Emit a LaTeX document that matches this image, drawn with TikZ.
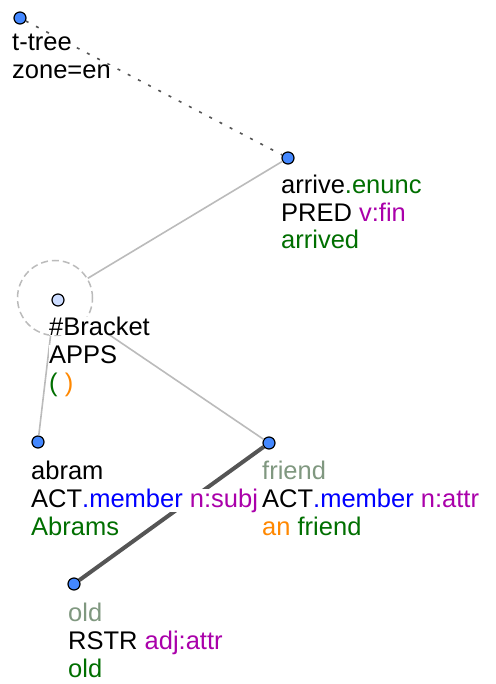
\documentclass[tikz,border=0pt]{standalone}
\usepackage{fontspec}
\setmainfont{Liberation Sans}
\usepackage{tikz}

\definecolor{nodeblue}{HTML}{4488FF}
\definecolor{nodepale}{HTML}{CCDCFF}
\definecolor{tgreen}{HTML}{006F00}
\definecolor{tblue}{HTML}{0000FF}
\definecolor{tmagenta}{HTML}{AA00AA}
\definecolor{torange}{HTML}{FF8800}
\definecolor{tgray}{HTML}{809880}
\definecolor{edgelight}{HTML}{BBBBBB}
\definecolor{edgedark}{HTML}{555555}

\begin{document}
\begin{tikzpicture}[x=1pt, y=-1pt, font=\fontsize{25.5}{28}\selectfont,
    tnode/.style={circle, draw=black, line width=1.2pt, fill=nodeblue, inner sep=0pt, minimum size=12pt},
    group/.style={circle, draw=edgelight, line width=1.5pt, dash pattern=on 7pt off 4pt, inner sep=0pt, minimum size=75pt},
    lbl/.style={anchor=base west, fill=white, inner sep=0pt},
    dotlink/.style={draw=edgedark, line width=1.6pt, dash pattern=on 3pt off 8.5pt},
    lightlink/.style={draw=edgelight, line width=1.6pt},
    darklink/.style={draw=edgedark, line width=4pt}]
        \useasboundingbox (0,0) rectangle (495,684);

        % Tree nodes
        \node[group] (brgroup) at (55,298) {};
        \node[tnode] (root) at (20,18) {};
        \node[tnode] (arrive) at (288,158) {};
        \node[tnode, fill=nodepale] (bracket) at (58,300) {};
        \node[tnode] (abram) at (38,442) {};
        \node[tnode] (friend) at (269,443) {};
        \node[tnode] (old) at (74,584) {};

        % Edges
        \draw[dotlink] (root) -- (arrive);
        \draw[lightlink] (arrive) -- (brgroup);
        \draw[lightlink] (brgroup) -- (abram);
        \draw[lightlink] (brgroup) -- (friend);
        \draw[darklink] (friend) -- (old);

        % Labels
        \node[lbl] (root-a) at (12,51) {t-tree};
        \node[lbl] (root-b) at (12,79) {zone=en};

        \node[lbl] (arrive-a) at (281,194) {arrive\textcolor{tgreen}{.enunc}};
        \node[lbl] (arrive-b) at (281,221.5) {PRED \textcolor{tmagenta}{v:fin}};
        \node[lbl] (arrive-c) at (281,249) {\textcolor{tgreen}{arrived}};

        \node[lbl] (bracket-a) at (49,335) {\#Bracket};
        \node[lbl] (bracket-b) at (49,363) {APPS};
        \node[lbl] (bracket-c) at (49,391) {\textcolor{tgreen}{(} \textcolor{torange}{)}};

        \node[lbl] (abram-a) at (31,479) {abram};
        \node[lbl] (abram-b) at (31,507) {ACT\textcolor{tblue}{.member} \textcolor{tmagenta}{n:subj}};
        \node[lbl] (abram-c) at (31,535) {\textcolor{tgreen}{Abrams}};

        \node[lbl] (friend-a) at (262,479) {\textcolor{tgray}{friend}};
        \node[lbl] (friend-b) at (262,507) {ACT\textcolor{tblue}{.member} \textcolor{tmagenta}{n:attr}};
        \node[lbl] (friend-c) at (262,535) {\textcolor{torange}{an} \textcolor{tgreen}{friend}};

        \node[lbl] (old-a) at (68,621) {\textcolor{tgray}{old}};
        \node[lbl] (old-b) at (68,649) {RSTR \textcolor{tmagenta}{adj:attr}};
        \node[lbl] (old-c) at (68,677) {\textcolor{tgreen}{old}};
\end{tikzpicture}
\end{document}
